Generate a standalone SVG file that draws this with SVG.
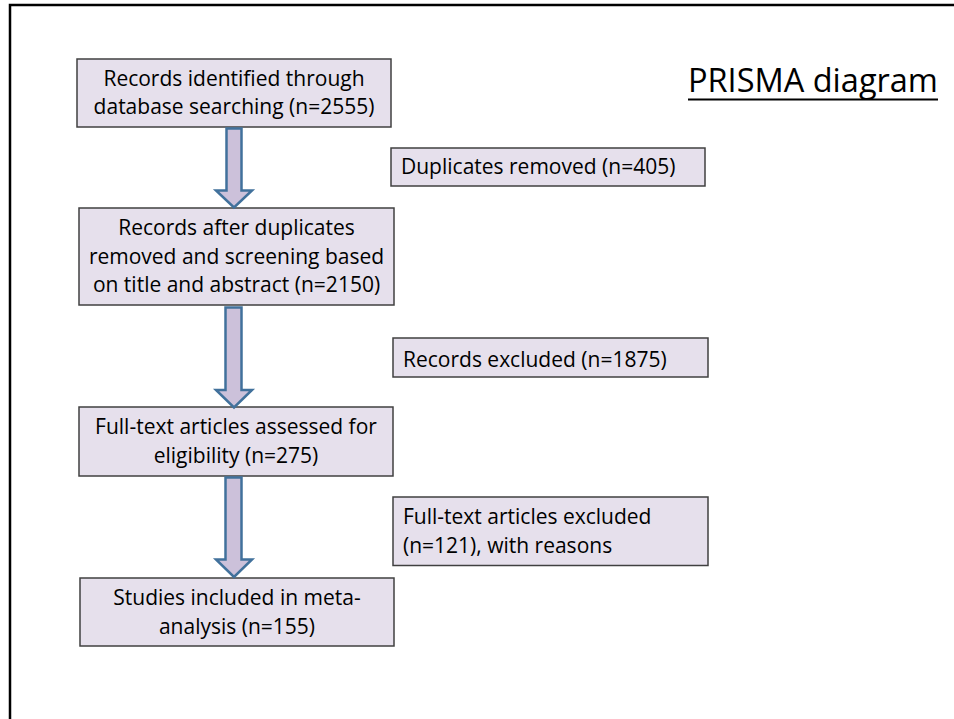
<svg xmlns="http://www.w3.org/2000/svg" width="954" height="719" viewBox="0 0 954 719">
  <style>
    .box { fill: #E6E0EC; stroke: #404040; stroke-width: 1.5; }
    .t { font-family: "Open Sans", "Liberation Sans", sans-serif; font-size: 21px; fill: #000; }
    .c { text-anchor: middle; }
    .arrow { fill: #CCC1DA; stroke: #41719C; stroke-width: 2.5; stroke-linejoin: miter; }
    .title { font-family: "Open Sans", "Liberation Sans", sans-serif; font-size: 32.5px; fill: #000; }
  </style>
  <rect x="0" y="0" width="954" height="719" fill="#fff"/>
  <path d="M10,719 V5 H954" fill="none" stroke="#000" stroke-width="2.5"/>

  <g id="title">
    <text class="title" x="688" y="92">PRISMA diagram</text>
    <line x1="688" y1="99.5" x2="938" y2="99.5" stroke="#000" stroke-width="2.2"/>
  </g>

  <g id="n1">
    <rect class="box" x="77" y="59" width="314" height="68"/>
    <text class="t c" x="234" y="86">Records identified through</text>
    <text class="t c" x="234" y="114">database searching (n=2555)</text>
  </g>

  <g id="n2">
    <rect class="box" x="79" y="208" width="315" height="97"/>
    <text class="t c" x="236.5" y="235">Records after duplicates</text>
    <text class="t c" x="236.5" y="263.5">removed and screening based</text>
    <text class="t c" x="236.5" y="292">on title and abstract (n=2150)</text>
  </g>

  <g id="n3">
    <rect class="box" x="79" y="407" width="314" height="69"/>
    <text class="t c" x="236" y="434">Full-text articles assessed for</text>
    <text class="t c" x="236" y="463">eligibility (n=275)</text>
  </g>

  <g id="n4">
    <rect class="box" x="80" y="578" width="314" height="68"/>
    <text class="t c" x="237" y="605">Studies included in meta-</text>
    <text class="t c" x="237" y="634">analysis (n=155)</text>
  </g>

  <g id="s1">
    <rect class="box" x="391" y="148" width="314" height="38"/>
    <text class="t" x="401" y="174">Duplicates removed (n=405)</text>
  </g>

  <g id="s2">
    <rect class="box" x="393" y="338" width="315" height="39"/>
    <text class="t" x="403" y="366.5">Records excluded (n=1875)</text>
  </g>

  <g id="s3">
    <rect class="box" x="393" y="497" width="315" height="68.5"/>
    <text class="t" x="403" y="524">Full-text articles excluded</text>
    <text class="t" x="403" y="553">(n=121), with reasons</text>
  </g>

  <g id="connectors">
    <path class="arrow" d="M226.5,128.5 H241.5 V190.5 H252 L234,207.5 L216,190.5 H226.5 Z"/>
    <path class="arrow" d="M225.5,307.5 H241.5 V390 H252 L234,407.5 L216,390 H225.5 Z"/>
    <path class="arrow" d="M225.5,477.5 H241.5 V559.5 H252 L234,577 L216,559.5 H225.5 Z"/>
  </g>
</svg>
